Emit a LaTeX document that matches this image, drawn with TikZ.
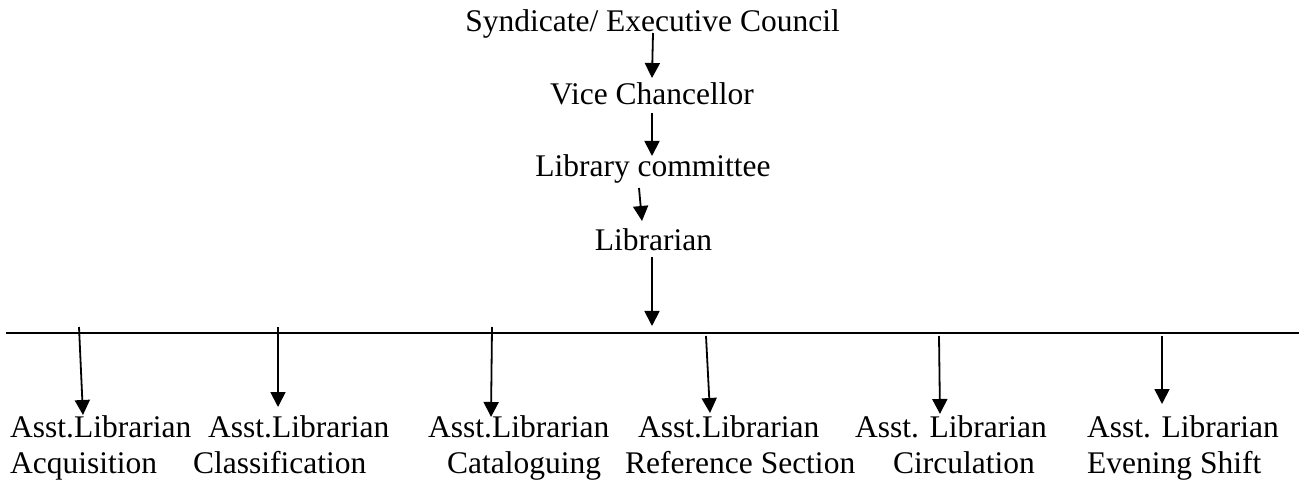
\documentclass[tikz,border=0pt]{standalone}
\usepackage{fontspec}
\setmainfont{Liberation Serif}
\usetikzlibrary{arrows.meta}

\tikzset{
  lbl/.style={inner sep=0pt, font=\fontsize{31.5}{36}\selectfont},
  toplbl/.style={lbl, anchor=base},
  sublbl/.style={lbl, anchor=base west},
  link/.style={line width=1.8pt, -{Triangle[width=15pt,length=15pt]}},
  bar/.style={line width=2.6pt}
}

\begin{document}
\begin{tikzpicture}[x=1pt,y=-1pt]
  \useasboundingbox[fill=white] (0,0) rectangle (1304,486);

  % chain of authority
  \node[toplbl] (syn) at (652.5,32)  {Syndicate/ Executive Council};
  \node[toplbl] (vc)  at (652,105)   {Vice Chancellor};
  \node[toplbl] (lc)  at (653,177)   {Library committee};
  \node[toplbl] (lib) at (653.5,251) {Librarian};

  \coordinate (s1) at (653,33);  \coordinate (e1) at (652,78);
  \coordinate (s2) at (652,113); \coordinate (e2) at (652,156);
  \coordinate (s3) at (639,188); \coordinate (e3) at (642,221);
  \coordinate (s4) at (652,257); \coordinate (e4) at (652,326);
  \draw[link] (s1) -- (e1);
  \draw[link] (s2) -- (e2);
  \draw[link] (s3) -- (e3);
  \draw[link] (s4) -- (e4);

  % distribution bar
  \coordinate (barL) at (6,333);
  \coordinate (barR) at (1299,333);
  \draw[bar] (barL) -- (barR);

  % sections
  \node[sublbl] (a1) at (10,437)   {Asst.Librarian};
  \node[sublbl] (d1) at (10,473)   {Acquisition};
  \node[sublbl] (a2) at (208,437)  {Asst.Librarian};
  \node[sublbl] (d2) at (193,473)  {Classification};
  \node[sublbl] (a3) at (428,437)  {Asst.Librarian};
  \node[sublbl] (d3) at (447,473)  {Cataloguing};
  \node[sublbl] (a4) at (638,437)  {Asst.Librarian};
  \node[sublbl] (d4) at (625,473)  {Reference Section};
  \node[sublbl] (a5) at (855,437)  {Asst. Librarian};
  \node[sublbl] (d5) at (893,473)  {Circulation};
  \node[sublbl] (a6) at (1087,437) {Asst. Librarian};
  \node[sublbl] (d6) at (1087,473) {Evening Shift};

  \coordinate (b1) at (79,327);   \coordinate (f1) at (83,415);
  \coordinate (b2) at (278,327);  \coordinate (f2) at (278,407);
  \coordinate (b3) at (492,327);  \coordinate (f3) at (491,417);
  \coordinate (b4) at (706,336);  \coordinate (f4) at (710,413);
  \coordinate (b5) at (939,336);  \coordinate (f5) at (940,414);
  \coordinate (b6) at (1162,336); \coordinate (f6) at (1162,404);
  \foreach \i in {1,...,6} \draw[link] (b\i) -- (f\i);
\end{tikzpicture}
\end{document}
